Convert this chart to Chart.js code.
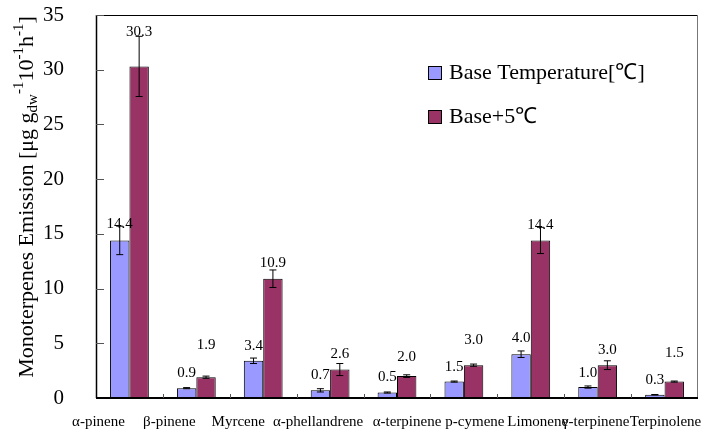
<!DOCTYPE html>
<html>
<head>
<meta charset="utf-8">
<script src="https://cdn.jsdelivr.net/npm/chart.js@4.4.1/dist/chart.umd.min.js"></script>
<style>
  html, body { margin: 0; padding: 0; background: #fff; }
</style>
</head>
<body>
<canvas id="chart" width="708" height="432"></canvas>
<script>
// Data
const compounds = ['α-pinene', 'β-pinene', 'Myrcene', 'α-phellandrene', 'α-terpinene',
                   'p-cymene', 'Limonene', 'γ-terpinene', 'Terpinolene'];
const seriesNames = ['Base Temperature[℃]', 'Base+5℃'];
const baseValues = [14.4, 0.9, 3.4, 0.7, 0.5, 1.5, 4.0, 1.0, 0.3];
const warmValues = [30.3, 1.9, 10.9, 2.6, 2.0, 3.0, 14.4, 3.0, 1.5];
const baseErrors = [1.3, 0.05, 0.25, 0.15, 0.05, 0.05, 0.3, 0.1, 0.02];
const warmErrors = [2.75, 0.1, 0.8, 0.55, 0.12, 0.1, 1.2, 0.4, 0.05];
const yTicks = [0, 5, 10, 15, 20, 25, 30, 35];

const SERIF = "'Liberation Serif', 'Times New Roman', serif";
const colors = ['#9999ff', '#993366'];

// how far each value label sits above its bar (px), as placed in the original
const labelLift = [
  [16, 15, 15, 15, 15, 15, 16, 14, 15],
  [34, 32, 16, 15, 19, 25, 15, 15, 29]
];
// category labels in the original are not centred under their groups
const labelShift = [-31, -27, -25, -12, 10, 11, 7, -2, 1];

// error bars + value labels
const barExtras = {
  id: 'barExtras',
  afterDatasetsDraw(chart) {
    const ctx = chart.ctx;
    const y = chart.scales.y;
    const errs = [baseErrors, warmErrors];
    ctx.save();
    chart.data.datasets.forEach((ds, di) => {
      const meta = chart.getDatasetMeta(di);
      meta.data.forEach((bar, i) => {
        const v = ds.data[i];
        const e = errs[di][i];
        const yTop = y.getPixelForValue(v + e);
        const yBot = y.getPixelForValue(v - e);
        ctx.strokeStyle = '#000';
        ctx.lineWidth = 1;
        ctx.beginPath();
        ctx.moveTo(bar.x, yTop); ctx.lineTo(bar.x, yBot);
        ctx.moveTo(bar.x - 3.5, yTop); ctx.lineTo(bar.x + 3.5, yTop);
        ctx.moveTo(bar.x - 3.5, yBot); ctx.lineTo(bar.x + 3.5, yBot);
        ctx.stroke();

        ctx.fillStyle = '#000';
        ctx.font = '15px ' + SERIF;
        ctx.textAlign = 'center';
        ctx.textBaseline = 'middle';
        ctx.fillText(v.toFixed(1), bar.x, bar.y - labelLift[di][i]);
      });
    });
    ctx.restore();
  }
};

// frame, inward ticks, category labels, legend, y title
const decor = {
  id: 'decor',
  afterDraw(chart) {
    const ctx = chart.ctx;
    const a = chart.chartArea;
    const x = chart.scales.x;
    const y = chart.scales.y;
    ctx.save();

    // box
    ctx.strokeStyle = '#000';
    ctx.lineWidth = 1;
    ctx.beginPath();
    ctx.moveTo(a.left, a.top + 0.5); ctx.lineTo(a.right, a.top + 0.5);
    ctx.stroke();
    ctx.strokeStyle = '#777';
    ctx.beginPath();
    ctx.moveTo(a.right - 0.5, a.top); ctx.lineTo(a.right - 0.5, a.bottom);
    ctx.stroke();
    ctx.strokeStyle = '#000';
    ctx.lineWidth = 1.5;
    ctx.beginPath();
    ctx.moveTo(a.left + 0.5, a.top); ctx.lineTo(a.left + 0.5, a.bottom);
    ctx.stroke();
    ctx.lineWidth = 2;
    ctx.beginPath();
    ctx.moveTo(a.left, a.bottom); ctx.lineTo(a.right, a.bottom);
    ctx.stroke();

    // y ticks inward
    ctx.strokeStyle = '#555';
    ctx.lineWidth = 1;
    yTicks.forEach(t => {
      if (t === 0) return;
      const py = Math.round(y.getPixelForValue(t)) + 0.5;
      ctx.beginPath();
      ctx.moveTo(a.left, py); ctx.lineTo(a.left + 8, py);
      ctx.stroke();
    });
    // x ticks between categories
    for (let i = 1; i < compounds.length; i++) {
      const px = Math.round((x.getPixelForValue(i - 1) + x.getPixelForValue(i)) / 2) + 0.5;
      ctx.beginPath();
      ctx.moveTo(px, a.bottom); ctx.lineTo(px, a.bottom - 4);
      ctx.stroke();
    }

    // category labels
    ctx.fillStyle = '#000';
    ctx.font = '15px ' + SERIF;
    ctx.textAlign = 'center';
    ctx.textBaseline = 'middle';
    compounds.forEach((c, i) => {
      ctx.fillText(c, x.getPixelForValue(i) + labelShift[i], a.bottom + 24);
    });

    // legend
    ctx.font = '22px ' + SERIF;
    ctx.textAlign = 'left';
    ctx.textBaseline = 'middle';
    seriesNames.forEach((name, i) => {
      const cy = 73 + i * 44;
      ctx.fillStyle = colors[i];
      ctx.fillRect(428, cy - 7, 14, 14);
      ctx.strokeStyle = '#000';
      ctx.lineWidth = 1;
      ctx.strokeRect(428.5, cy - 6.5, 13, 13);
      ctx.fillStyle = '#000';
      ctx.fillText(name, 449, cy);
    });

    // y title with sub/superscripts
    const parts = [
      ['Monoterpenes Emission [μg g', 0],
      ['dw', 1],
      ['-1', -1],
      ['10', 0],
      ['-1', -1],
      ['h', 0],
      ['-1', -1],
      [']', 0]
    ];
    const big = '22px ' + SERIF, small = '15px ' + SERIF;
    let total = 0;
    parts.forEach(p => { ctx.font = p[1] ? small : big; total += ctx.measureText(p[0]).width; });
    ctx.translate(27, 197);
    ctx.rotate(-Math.PI / 2);
    ctx.fillStyle = '#000';
    let cx = -total / 2;
    parts.forEach(p => {
      ctx.font = p[1] ? small : big;
      const dy = p[1] === 1 ? 6 : (p[1] === -1 ? -8 : 0);
      ctx.fillText(p[0], cx, dy);
      cx += ctx.measureText(p[0]).width;
    });
    ctx.restore();
  }
};

const chart = new Chart(document.getElementById('chart').getContext('2d'), {
  type: 'bar',
  data: {
    labels: compounds,
    datasets: [
      { label: seriesNames[0], data: baseValues, backgroundColor: colors[0], borderColor: '#000', borderWidth: 1 },
      { label: seriesNames[1], data: warmValues, backgroundColor: colors[1], borderColor: '#000', borderWidth: 1 }
    ]
  },
  options: {
    responsive: false,
    animation: false,
    devicePixelRatio: 1,
    layout: { padding: { left: 0, right: 10, top: 15, bottom: 0 } },
    datasets: { bar: { categoryPercentage: 0.58, barPercentage: 1 } },
    plugins: { legend: { display: false }, tooltip: { enabled: false } },
    scales: {
      x: {
        grid: { display: false, drawTicks: false },
        border: { display: false },
        ticks: { display: false },
        afterFit(s) { s.height = 34; s.paddingLeft = 0; s.paddingRight = 0; }
      },
      y: {
        min: 0, max: 35,
        grid: { display: false, drawTicks: false },
        border: { display: false },
        afterBuildTicks(s) { s.ticks = yTicks.map(v => ({ value: v })); },
        ticks: { color: '#000', font: { family: SERIF, size: 21 }, padding: 32 },
        afterFit(s) { s.width = 96; s.paddingTop = 0; s.paddingBottom = 0; }
      }
    }
  },
  plugins: [barExtras, decor]
});
</script>
</body>
</html>
